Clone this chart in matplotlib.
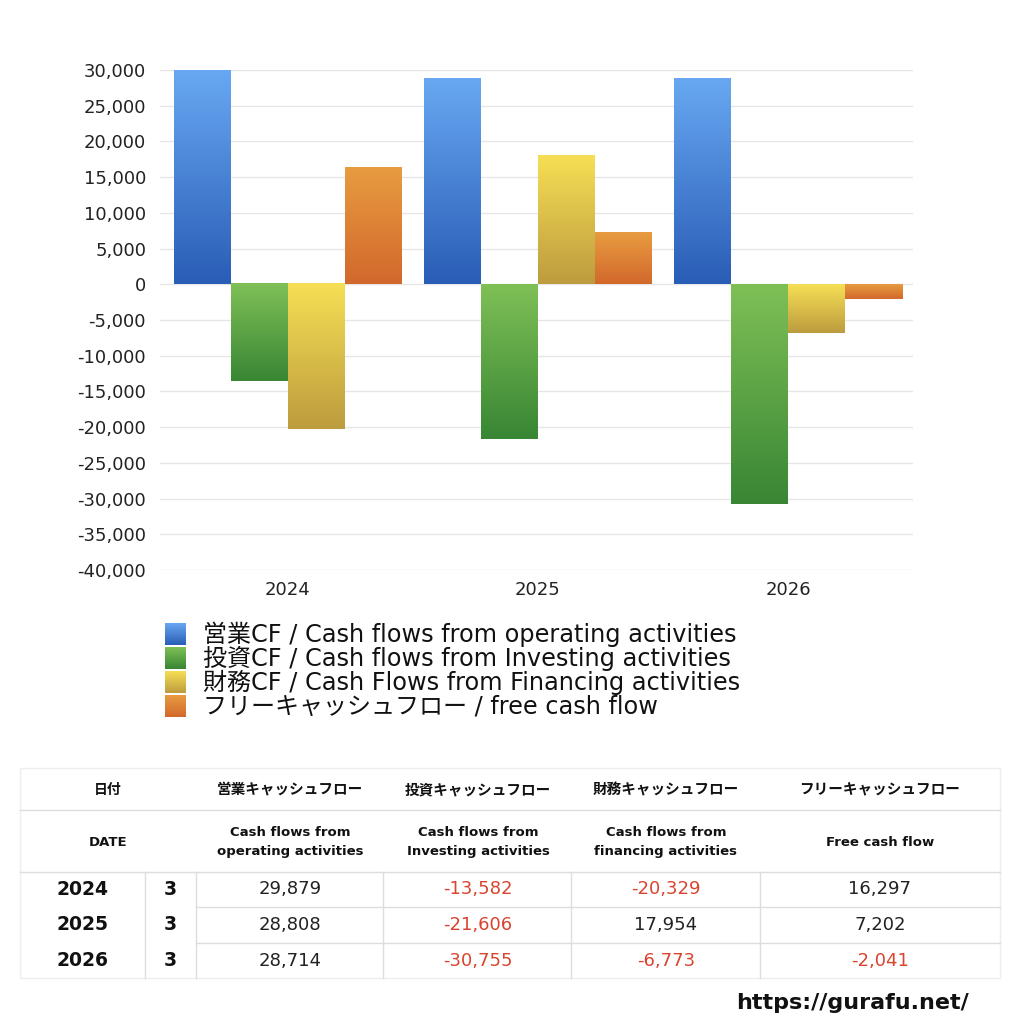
import numpy as np
import matplotlib
matplotlib.use("Agg")
import matplotlib.pyplot as plt
from matplotlib.colors import LinearSegmentedColormap
from matplotlib.patches import Rectangle
from matplotlib.ticker import FuncFormatter, MultipleLocator

plt.rcParams["font.family"] = ["DejaVu Sans", "Noto Sans CJK JP"]

years = ["2024", "2025", "2026"]
months = ["3", "3", "3"]
operating = [29879, 28808, 28714]
investing = [-13582, -21606, -30755]
financing = [-20329, 17954, -6773]
free_cf = [16297, 7202, -2041]

legend_labels = [
    "営業CF / Cash flows from operating activities",
    "投資CF / Cash flows from Investing activities",
    "財務CF / Cash Flows from Financing activities",
    "フリーキャッシュフロー / free cash flow",
]
head_jp = ["営業キャッシュフロー", "投資キャッシュフロー", "財務キャッシュフロー", "フリーキャッシュフロー"]
head_en = ["Cash flows from\noperating activities", "Cash flows from\nInvesting activities",
           "Cash flows from\nfinancing activities", "Free cash flow"]

# (light top, dark bottom)
grads = [("#68a8f2", "#2a5db6"), ("#7fc056", "#388634"),
         ("#f6df55", "#bc9c3e"), ("#e89c40", "#d2682c")]

series = [operating, investing, financing, free_cf]

fig = plt.figure(figsize=(10.24, 10.24), dpi=100)
ax = fig.add_axes([160 / 1024, 1 - 570 / 1024, 753 / 1024, 500 / 1024])

x = np.arange(len(years))
w = 0.228
grad = np.linspace(0, 1, 256).reshape(-1, 1)
for i, vals in enumerate(series):
    cmap = LinearSegmentedColormap.from_list(f"g{i}", grads[i])
    bars = ax.bar(x + (i - 1.5) * w, vals, w, color="none", edgecolor="none")
    # fill each bar with a vertical gradient, light on top
    for b in bars:
        x0, y0 = b.get_x(), b.get_y()
        x1, y1 = x0 + b.get_width(), y0 + b.get_height()
        lo, hi = min(y0, y1), max(y0, y1)
        ax.imshow(grad, cmap=cmap, extent=(x0, x1, lo, hi), origin="upper",
                  aspect="auto", zorder=2, interpolation="bicubic")

ax.set_xlim(-0.512, 2.5)
ax.set_ylim(-40000, 30000)
ax.set_aspect("auto")
ax.yaxis.set_major_locator(MultipleLocator(5000))
ax.yaxis.set_major_formatter(FuncFormatter(lambda v, p: f"{v:,.0f}"))
ax.set_xticks(x)
ax.set_xticklabels(years)
ax.grid(axis="y", color="#e6e6e6", linewidth=1, zorder=0)
ax.set_axisbelow(True)
for s in ax.spines.values():
    s.set_visible(False)
ax.tick_params(length=0, labelsize=13, colors="#222222")
ax.tick_params(axis="x", pad=8)
ax.tick_params(axis="y", pad=10)

# overlay in pixel coordinates for legend and table
ov = fig.add_axes([0, 0, 1, 1])
ov.axis("off")
ov.patch.set_alpha(0)

for i, lab in enumerate(legend_labels):
    yc = 634 + i * 24
    cmap = LinearSegmentedColormap.from_list(f"l{i}", grads[i])
    ov.imshow(grad, cmap=cmap, extent=(165, 186, yc + 11, yc - 11), origin="upper",
              aspect="auto", interpolation="bicubic")
    ov.text(203, yc, lab, fontsize=17.3, va="center", ha="left", color="#111111")
ov.set_xlim(0, 1024)
ov.set_ylim(1024, 0)

# table
line_c = "#dddddd"
L, R = 20, 1000
rows_y = [768, 810, 872, 907, 943, 978]
ov.add_patch(Rectangle((L, 768), R - L, 978 - 768, fill=False, edgecolor="#eeeeee", lw=1))
for yy in [810, 872]:
    ov.plot([L, R], [yy, yy], color=line_c, lw=1)
for yy in [907, 943]:
    ov.plot([196, R], [yy, yy], color=line_c, lw=1)
for xx in [145, 196, 383, 571, 760]:
    ov.plot([xx, xx], [872, 978], color=line_c, lw=1)

col_c = [290, 478, 666, 880]
ov.text(108, 790, "日付", ha="center", va="center", fontsize=10, fontweight="bold", color="#111111")
ov.text(108, 842, "DATE", ha="center", va="center", fontsize=9.5, fontweight="bold", color="#111111")
for j in range(4):
    ov.text(col_c[j], 790, head_jp[j], ha="center", va="center", fontsize=10.5,
            fontweight="bold", color="#111111")
    ov.text(col_c[j], 842, head_en[j], ha="center", va="center", fontsize=9.5,
            fontweight="bold", color="#111111", linespacing=1.5)

for r in range(3):
    yc = (rows_y[r + 2] + rows_y[r + 3]) / 2
    ov.text(83, yc, years[r], ha="center", va="center", fontsize=13.5, fontweight="bold", color="#111111")
    ov.text(170, yc, months[r], ha="center", va="center", fontsize=13.5, fontweight="bold", color="#111111")
    for j, vals in enumerate(series):
        v = vals[r]
        ov.text(col_c[j], yc, f"{v:,}", ha="center", va="center", fontsize=13,
                color="#d9442e" if v < 0 else "#222222")

ov.text(852, 1003, "https://gurafu.net/", ha="center", va="center", fontsize=16,
        fontweight="bold", color="#111111")

fig.savefig("out.png", dpi=100)
